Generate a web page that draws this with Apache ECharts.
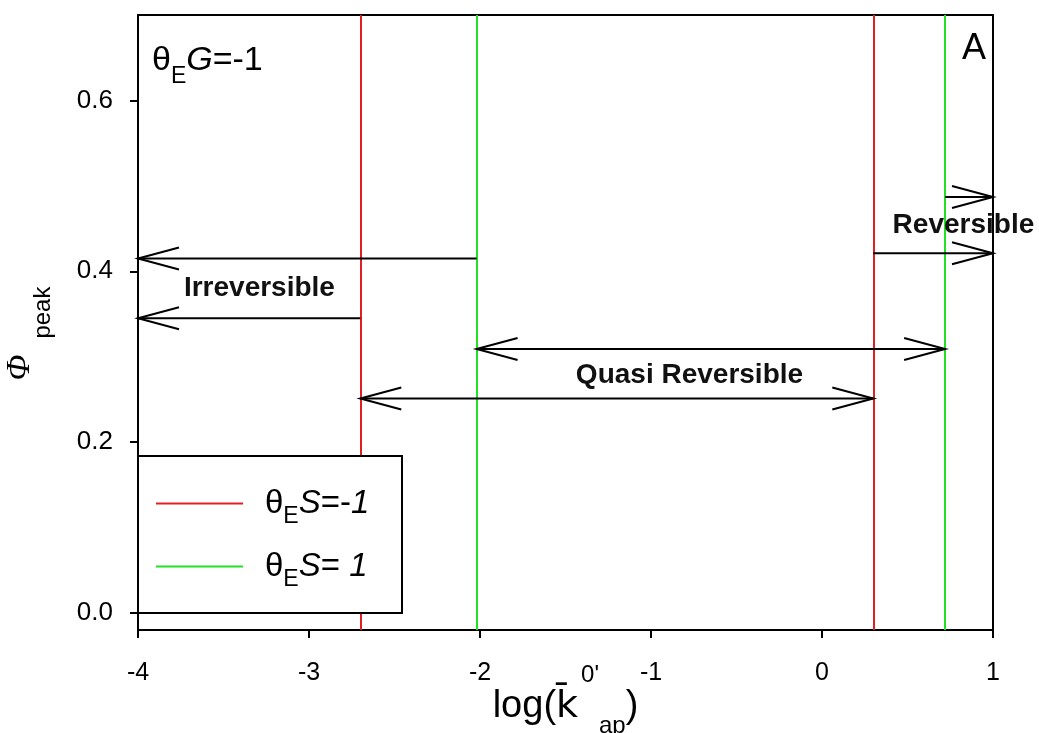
<!DOCTYPE html>
<html>
<head>
<meta charset="utf-8">
<script src="https://cdn.jsdelivr.net/npm/echarts@6/dist/echarts.min.js"></script>
<style>
  html, body { margin: 0; padding: 0; background: #fff; }
  #chart { width: 1039px; height: 733px; }
</style>
</head>
<body>
<div id="chart"></div>
<script>
const xTicks = [-4, -3, -2, -1, 0, 1]
const yTicks = [0, 0.2, 0.4, 0.6]

// boundaries
const redLines = [-2.70, 0.30]    // θE S = -1
const greenLines = [-2.02, 0.72]  // θE S = 1

// [xFrom, xTo, y, head at xFrom, head at xTo]
const arrows = [
  [-4, -2.02, 0.415, 1, 0],
  [-4, -2.70, 0.345, 1, 0],
  [-2.02, 0.72, 0.309, 1, 1],
  [-2.70, 0.30, 0.251, 1, 1],
  [0.72, 1, 0.487, 0, 1],
  [0.30, 1, 0.421, 0, 1]
]

// [x, y, text]
const regionLabels = [
  [-3.29, 0.380, 'Irreversible'],
  [-0.775, 0.278, 'Quasi Reversible'],
  [0.827, 0.454, 'Reversible']
]

const SANS = '"Liberation Sans", Arial, sans-serif'
const SERIF = '"Liberation Serif", "Times New Roman", serif'
const RED = '#e02020'
const GREEN = '#22e022'

function renderArrow(params, api) {
  const a = api.coord([api.value(0), api.value(2)])
  const b = api.coord([api.value(1), api.value(2)])
  const len = 41, half = 11
  const style = { stroke: '#000', lineWidth: 2, fill: null }
  const children = [{ type: 'line', shape: { x1: a[0], y1: a[1], x2: b[0], y2: b[1] }, style }]
  if (api.value(3)) {
    children.push({ type: 'polyline', shape: { points: [[a[0] + len, a[1] - half], a, [a[0] + len, a[1] + half]] }, style })
  }
  if (api.value(4)) {
    children.push({ type: 'polyline', shape: { points: [[b[0] - len, b[1] - half], b, [b[0] - len, b[1] + half]] }, style })
  }
  return { type: 'group', children }
}

function renderLabel(params, api) {
  const p = api.coord([api.value(0), api.value(1)])
  return {
    type: 'text',
    x: p[0],
    y: p[1],
    style: {
      text: regionLabels[params.dataIndex][2],
      fontSize: 28,
      fontWeight: 'bold',
      fontFamily: SANS,
      fill: '#111',
      align: 'center',
      verticalAlign: 'middle'
    }
  }
}

const plain = { fontFamily: SANS, fontWeight: 'normal', color: '#000' }

const chart = echarts.init(document.getElementById('chart'))

chart.setOption({
  animation: false,
  backgroundColor: '#fff',
  title: [{
    text: '{t|θ}{sub|E}{it|G}{n|=-1}',
    left: 152,
    top: 34,
    padding: 0,
    textStyle: {
      fontWeight: 'normal',
      rich: {
        t: { ...plain, fontSize: 34 },
        sub: { ...plain, fontSize: 23, padding: [31, 0, 0, 0] },
        it: { ...plain, fontSize: 34, fontStyle: 'italic' },
        n: { ...plain, fontSize: 34 }
      }
    }
  }, {
    text: 'A',
    left: 962,
    top: 31,
    padding: 0,
    textStyle: { fontSize: 36, fontWeight: 'normal', fontFamily: SANS, color: '#000' }
  }],
  grid: {
    left: 138,
    right: 46,
    top: 15,
    bottom: 103,
    containLabel: false,
    outerBoundsMode: 'none',
    show: true,
    borderColor: '#000',
    borderWidth: 2,
    backgroundColor: 'transparent'
  },
  legend: {
    orient: 'vertical',
    left: 156,
    top: 487,
    padding: 0,
    z: 60,
    icon: 'rect',
    itemWidth: 87,
    itemHeight: 2,
    itemGap: 22,
    data: ['θES=-1', 'θES= 1'],
    formatter: name => name === 'θES=-1'
      ? '{t|θ}{sub|E}{it|S}{n|=-}{it|1}'
      : '{t|θ}{sub|E}{it|S}{n|= }{it|1}',
    textStyle: {
      rich: {
        t: { ...plain, fontSize: 33, padding: [0, 0, 0, 17] },
        sub: { ...plain, fontSize: 23, padding: [26, 0, 0, 0] },
        it: { ...plain, fontSize: 33, fontStyle: 'italic' },
        n: { ...plain, fontSize: 33 }
      }
    }
  },
  graphic: [{
    type: 'rect',
    x: 138,
    y: 456,
    z: 50,
    shape: { width: 264, height: 157 },
    style: { fill: '#fff', stroke: '#000', lineWidth: 2 }
  }],
  xAxis: {
    type: 'value',
    min: xTicks[0],
    max: xTicks[xTicks.length - 1],
    interval: 1,
    name: '{t|log(}{k|k\u0304}{sup|0\'}{sub|ap}{t|)}',
    nameLocation: 'middle',
    nameGap: 33,
    nameMoveOverlap: false,
    nameTextStyle: {
      rich: {
        t: { ...plain, fontSize: 38 },
        k: { ...plain, fontSize: 38, fontFamily: '"DejaVu Sans", sans-serif' },
        sup: { ...plain, fontSize: 24, padding: [0, 0, 64, 3] },
        sub: { ...plain, fontSize: 24, padding: [38, 0, 0, 0] }
      }
    },
    axisLine: { show: true, onZero: false, lineStyle: { color: '#000', width: 2 } },
    axisTick: { show: true, inside: false, length: 8, lineStyle: { color: '#000', width: 2 } },
    axisLabel: {
      margin: 31,
      fontSize: 25,
      fontFamily: SANS,
      color: '#000',
      formatter: v => String(v)
    },
    splitLine: { show: false }
  },
  yAxis: {
    type: 'value',
    min: -0.02,
    max: 0.7,
    name: '{phi|Φ}{sub|peak}',
    nameLocation: 'middle',
    nameRotate: 90,
    nameGap: 83,
    nameMoveOverlap: false,
    nameTextStyle: {
      rich: {
        phi: { ...plain, fontSize: 34, fontFamily: SERIF, fontStyle: 'italic' },
        sub: { ...plain, fontSize: 24, padding: [46, 22, 0, 16] }
      }
    },
    axisLine: { show: true, onZero: false, lineStyle: { color: '#000', width: 2 } },
    axisTick: { show: true, inside: false, length: 8, customValues: yTicks, lineStyle: { color: '#000', width: 2 } },
    axisLabel: {
      margin: 25,
      fontSize: 26,
      fontFamily: SANS,
      color: '#000',
      customValues: yTicks,
      formatter: v => v.toFixed(1)
    },
    splitLine: { show: false }
  },
  series: [{
    name: 'θES=-1',
    type: 'line',
    data: [],
    color: RED,
    itemStyle: { color: RED },
    lineStyle: { color: RED, width: 2 },
    markLine: {
      silent: true,
      symbol: ['none', 'none'],
      label: { show: false },
      lineStyle: { color: RED, width: 2, type: 'solid' },
      data: redLines.map(v => ({ xAxis: v }))
    }
  }, {
    name: 'θES= 1',
    type: 'line',
    data: [],
    color: GREEN,
    itemStyle: { color: GREEN },
    lineStyle: { color: GREEN, width: 2 },
    markLine: {
      silent: true,
      symbol: ['none', 'none'],
      label: { show: false },
      lineStyle: { color: GREEN, width: 2, type: 'solid' },
      data: greenLines.map(v => ({ xAxis: v }))
    }
  }, {
    type: 'custom',
    silent: true,
    z: 5,
    renderItem: renderArrow,
    encode: { x: [0, 1], y: 2 },
    data: arrows
  }, {
    type: 'custom',
    silent: true,
    z: 6,
    clip: false,
    renderItem: renderLabel,
    encode: { x: 0, y: 1 },
    data: regionLabels.map(d => [d[0], d[1]])
  }]
})
</script>
</body>
</html>
